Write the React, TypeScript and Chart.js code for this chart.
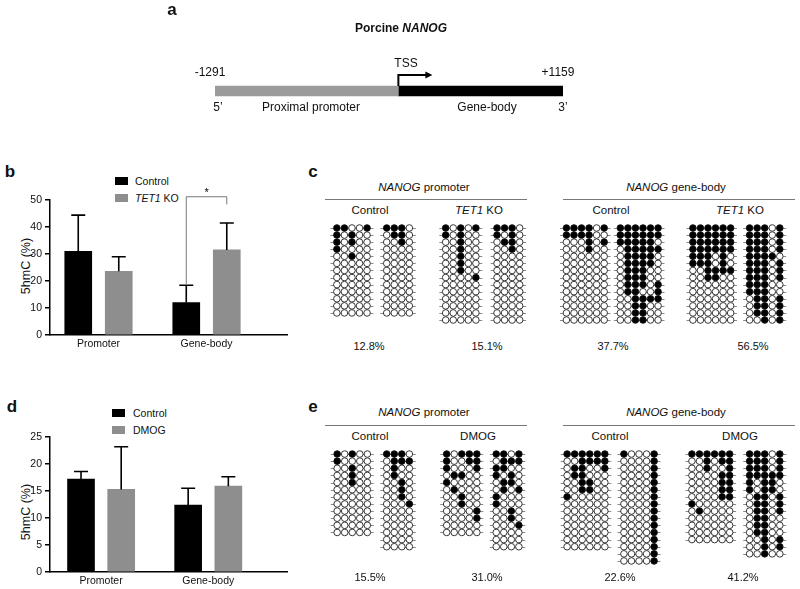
import React, { useEffect, useRef } from "react";
import { Chart, registerables } from "chart.js";
Chart.register(...registerables);

const FONT = "Arial, 'Liberation Sans', Helvetica, sans-serif";

// ---------- Panel a data ----------
const geneLabel = ["NANOG"];
const promoterStart = [-1291];
const geneBodyEnd = [1159];

// ---------- Panel b data ----------
const barGroups = ["Promoter", "Gene-body"];
const bControl = [31.0, 12.0];
const bControlSD = [13.4, 6.4];
const bTet1 = [23.6, 31.5];
const bTet1SD = [5.4, 10.0];

// ---------- Panel d data ----------
const dControl = [17.2, 12.4];
const dControlSD = [1.4, 3.1];
const dDmog = [15.3, 15.9];
const dDmogSD = [7.9, 1.75];

// ---------- Panel c methylation patterns (1 = methylated) ----------
const cPromControlA = ["11001", "10100", "10100", "10000", "00100", "00000", "00000", "00000", "00000", "00000", "00000", "00000", "00000"];
const cPromControlB = ["1110", "0110", "0010", "0000", "0000", "0000", "0000", "0000", "0000", "0000", "0000", "0000", "0000"];
const cPromTetA = ["10101", "10100", "00100", "00100", "00100", "00100", "00100", "00001", "00000", "00000", "00000", "00000", "00000", "00000"];
const cPromTetB = ["1110", "1010", "0110", "0010", "0000", "0000", "0000", "0000", "0000", "0000", "0000", "0000", "0000", "0000"];
const cBodyControlA = ["111101", "111100", "000101", "000100", "000000", "000000", "000000", "000000", "000000", "000000", "000000", "000000", "000000", "000000"];
const cBodyControlB = ["111111", "111111", "111110", "011111", "011110", "011110", "011100", "011100", "011101", "011001", "001111", "001100", "001100", "001100"];
const cBodyTetA = ["111111", "111111", "111111", "111111", "111010", "111010", "001111", "001100", "000000", "000000", "000000", "000000", "000000", "000000"];
const cBodyTetB = ["11101", "11101", "11101", "11101", "11110", "11101", "11101", "11101", "11100", "11100", "01101", "01101", "01101", "00101"];
const cPercents = ["12.8%", "15.1%", "37.7%", "56.5%"];

// ---------- Panel e methylation patterns ----------
const ePromControlA = ["10100", "10000", "00100", "00100", "00100", "00000", "00000", "00000", "00000", "00000", "00000", "00000"];
const ePromControlB = ["1110", "0111", "0100", "0100", "0010", "0010", "0010", "0001", "0000", "0000", "0000", "0000", "0000", "0000"];
const ePromDmogA = ["10111", "10011", "10001", "01100", "10000", "01000", "00100", "00100", "00001", "00001", "00000", "00000"];
const ePromDmogB = ["1101", "0111", "1100", "1010", "0110", "0101", "1000", "1000", "0010", "0010", "0001", "0000", "0000", "0000"];
const eBodyControlA = ["111111", "001111", "011001", "011000", "001100", "001100", "100000", "000000", "000000", "000000", "000000", "000000", "000000", "000000"];
const eBodyControlB = ["10001", "00001", "00001", "00001", "00001", "00001", "00001", "00001", "00001", "00001", "00001", "00001", "00001", "00001", "00001", "00001"];
const eBodyDmogA = ["111111", "001011", "001001", "000011", "000011", "000011", "000011", "100000", "010000", "000000", "000000", "000000", "000000"];
const eBodyDmogB = ["11101", "11101", "11101", "11111", "10110", "10110", "01101", "01101", "01101", "01100", "01100", "01100", "00101", "00101", "00100"];
const ePercents = ["15.5%", "31.0%", "22.6%", "41.2%"];

// ---------- layout constants ----------
const GRAY = "#8e8e8e";
const PITCH = 7.7;
const DOT_LEFT = 300;
const DOT_WIDTH = 500;
const C_CENTERS = [348, 395, 459, 507.5, 586, 641, 715, 769];
const E_CENTERS = [348.3, 395, 460, 506.7, 586.7, 640.8, 714, 769];

function GeneChart() {
  const ref = useRef<HTMLCanvasElement>(null);
  useEffect(() => {
    const tss = {
      id: "tss",
      afterDatasetsDraw(chart: any) {
        const ctx = chart.ctx;
        const x0 = chart.scales.x.getPixelForValue(0);
        const yc = chart.scales.y.getPixelForValue(0);
        const top = yc - 5;
        const yArr = top - 11;
        ctx.save();
        ctx.strokeStyle = "#000";
        ctx.fillStyle = "#000";
        ctx.lineWidth = 2;
        ctx.beginPath();
        ctx.moveTo(x0, top);
        ctx.lineTo(x0, yArr);
        ctx.lineTo(x0 + 28, yArr);
        ctx.stroke();
        ctx.beginPath();
        ctx.moveTo(x0 + 34, yArr);
        ctx.lineTo(x0 + 27, yArr - 3.5);
        ctx.lineTo(x0 + 27, yArr + 3.5);
        ctx.closePath();
        ctx.fill();
        ctx.restore();
      },
    };
    const chart = new Chart(ref.current as HTMLCanvasElement, {
      type: "bar",
      data: {
        labels: geneLabel,
        datasets: [
          { label: "Proximal promoter", data: promoterStart, backgroundColor: "#9b9b9b", barThickness: 10, borderWidth: 0 },
          { label: "Gene-body", data: geneBodyEnd, backgroundColor: "#000", barThickness: 10, borderWidth: 0 },
        ],
      },
      options: {
        indexAxis: "y",
        animation: false,
        responsive: false,
        layout: { padding: { left: 215, right: 237, top: 80, bottom: 18 } },
        plugins: { legend: { display: false }, tooltip: { enabled: false } },
        scales: {
          x: { display: false, stacked: true, min: promoterStart[0], max: geneBodyEnd[0] },
          y: { display: false, stacked: true },
        },
      } as any,
      plugins: [tss],
    });
    return () => chart.destroy();
  }, []);
  return <canvas ref={ref} width={800} height={120} style={{ position: "absolute", left: 0, top: 0, width: 800, height: 120 }} />;
}

type Series = { label: string; values: number[]; sd: number[]; color: string; offset: number };
type Bracket = { top: number; leftLow: number; rightLow: number; text: string };
type BarProps = {
  top: number;
  height: number;
  padTop: number;
  xAxisH: number;
  yMax: number;
  yStep: number;
  centers: number[];
  xMin: number;
  xMax: number;
  series: Series[];
  bracket?: Bracket;
};

function BarPanel(p: BarProps) {
  const ref = useRef<HTMLCanvasElement>(null);
  useEffect(() => {
    const errPlugin = {
      id: "errbars",
      afterDatasetsDraw(chart: any) {
        const ctx = chart.ctx;
        const ys = chart.scales.y;
        ctx.save();
        ctx.strokeStyle = "#000";
        ctx.lineWidth = 1.6;
        p.series.forEach((s, di) => {
          const meta = chart.getDatasetMeta(di);
          meta.data.forEach((el: any, i: number) => {
            const yTop = ys.getPixelForValue(s.values[i] + s.sd[i]);
            ctx.beginPath();
            ctx.moveTo(el.x, el.y);
            ctx.lineTo(el.x, yTop);
            ctx.moveTo(el.x - 7, yTop);
            ctx.lineTo(el.x + 7, yTop);
            ctx.stroke();
          });
        });
        if (p.bracket) {
          const b = p.bracket;
          const xl = chart.getDatasetMeta(0).data[1].x;
          const xr = chart.getDatasetMeta(1).data[1].x;
          const yt = ys.getPixelForValue(b.top);
          ctx.strokeStyle = "#777";
          ctx.lineWidth = 1;
          ctx.beginPath();
          ctx.moveTo(xl, ys.getPixelForValue(b.leftLow));
          ctx.lineTo(xl, yt);
          ctx.lineTo(xr, yt);
          ctx.lineTo(xr, ys.getPixelForValue(b.rightLow));
          ctx.stroke();
          ctx.fillStyle = "#000";
          ctx.font = `11px ${FONT}`;
          ctx.textAlign = "center";
          ctx.textBaseline = "bottom";
          ctx.fillText(b.text, (xl + xr) / 2, yt + 2);
        }
        ctx.restore();
      },
    };
    const chart = new Chart(ref.current as HTMLCanvasElement, {
      type: "bar",
      data: {
        datasets: p.series.map((s) => ({
          label: s.label,
          data: s.values.map((v, i) => ({ x: p.centers[i] + s.offset, y: v })),
          backgroundColor: s.color,
          grouped: false,
          barThickness: 27,
          borderWidth: 0,
        })),
      },
      options: {
        animation: false,
        responsive: false,
        layout: { padding: { top: p.padTop, right: 8, left: 0, bottom: 0 } },
        plugins: { legend: { display: false }, tooltip: { enabled: false } },
        scales: {
          x: {
            type: "linear",
            offset: false,
            min: p.xMin,
            max: p.xMax,
            afterBuildTicks: (ax: any) => {
              ax.ticks = p.centers.map((v) => ({ value: v }));
            },
            afterFit: (ax: any) => {
              ax.height = p.xAxisH;
            },
            grid: { display: false, drawTicks: false, offset: false },
            border: { display: true, color: "#000", width: 1.5 },
            ticks: {
              callback: (_v: any, i: number) => barGroups[i],
              font: { family: FONT, size: 10.5 },
              color: "#111",
              padding: 3,
              maxRotation: 0,
              autoSkip: false,
            },
          },
          y: {
            min: 0,
            max: p.yMax,
            afterFit: (ax: any) => {
              ax.width = 50;
            },
            ticks: { stepSize: p.yStep, font: { family: FONT, size: 10.5 }, color: "#111", padding: 3 },
            grid: { display: true, drawOnChartArea: false, drawTicks: true, tickLength: 5, color: "#000", lineWidth: 1.5 },
            border: { display: true, color: "#000", width: 1.5 },
          },
        },
      } as any,
      plugins: [errPlugin],
    });
    return () => chart.destroy();
  }, []);
  return (
    <canvas
      ref={ref}
      width={295}
      height={p.height}
      style={{ position: "absolute", left: 0, top: p.top, width: 295, height: p.height }}
    />
  );
}

type DotProps = { rowTop: number; maxRows: number; groups: string[][]; centers: number[] };

function DotChart({ rowTop, maxRows, groups, centers }: DotProps) {
  const ref = useRef<HTMLCanvasElement>(null);
  const height = PITCH * (maxRows + 1);
  useEffect(() => {
    const layout = groups.map((g, gi) => {
      const n = g[0].length;
      return { g, n, c0: (centers[gi] - DOT_LEFT) / PITCH - (n - 1) / 2 };
    });
    const filled: { x: number; y: number }[] = [];
    const open: { x: number; y: number }[] = [];
    layout.forEach(({ g, c0 }) => {
      g.forEach((row, r) => {
        row.split("").forEach((ch, c) => {
          (ch === "1" ? filled : open).push({ x: c0 + c, y: r });
        });
      });
    });
    const lines = {
      id: "rowlines",
      beforeDatasetsDraw(chart: any) {
        const ctx = chart.ctx;
        const xs = chart.scales.x;
        const ys = chart.scales.y;
        ctx.save();
        ctx.strokeStyle = "#8a8a8a";
        ctx.lineWidth = 1;
        layout.forEach(({ g, n, c0 }) => {
          g.forEach((_row, r) => {
            const y = Math.round(ys.getPixelForValue(r)) + 0.5;
            ctx.beginPath();
            ctx.moveTo(xs.getPixelForValue(c0 - 0.85), y);
            ctx.lineTo(xs.getPixelForValue(c0 + n - 1 + 0.85), y);
            ctx.stroke();
          });
        });
        ctx.restore();
      },
    };
    const chart = new Chart(ref.current as HTMLCanvasElement, {
      type: "scatter",
      data: {
        datasets: [
          { label: "methylated", data: filled, pointRadius: 3.3, pointBorderWidth: 0.9, pointBackgroundColor: "#000", pointBorderColor: "#111", clip: false },
          { label: "unmethylated", data: open, pointRadius: 3.3, pointBorderWidth: 0.9, pointBackgroundColor: "#fff", pointBorderColor: "#222", clip: false },
        ],
      },
      options: {
        animation: false,
        responsive: false,
        layout: { padding: 0 },
        plugins: { legend: { display: false }, tooltip: { enabled: false } },
        scales: {
          x: { display: false, offset: false, min: 0, max: DOT_WIDTH / PITCH },
          y: { display: false, offset: false, min: -1, max: maxRows, reverse: true },
        },
      } as any,
      plugins: [lines],
    });
    return () => chart.destroy();
  }, []);
  return (
    <canvas
      ref={ref}
      width={DOT_WIDTH}
      height={Math.round(height)}
      style={{ position: "absolute", left: DOT_LEFT, top: rowTop - PITCH, width: DOT_WIDTH, height: Math.round(height) }}
    />
  );
}

type TProps = { x: number; y: number; size?: number; bold?: boolean; left?: boolean; rotate?: boolean; children: React.ReactNode };
function T({ x, y, size = 12, bold, left, rotate, children }: TProps) {
  return (
    <div
      style={{
        position: "absolute",
        left: x,
        top: y,
        transform: `${left ? "translate(0,-50%)" : "translate(-50%,-50%)"}${rotate ? " rotate(-90deg)" : ""}`,
        fontSize: size,
        fontWeight: bold ? 700 : 400,
        lineHeight: 1,
        whiteSpace: "nowrap",
        color: "#111",
        fontFamily: FONT,
      }}
    >
      {children}
    </div>
  );
}

function HLine({ x1, x2, y }: { x1: number; x2: number; y: number }) {
  return <div style={{ position: "absolute", left: x1, top: y, width: x2 - x1, height: 0, borderTop: "1px solid #777" }} />;
}

function Swatch({ x, y, color }: { x: number; y: number; color: string }) {
  return <div style={{ position: "absolute", left: x, top: y, width: 13, height: 8, background: color }} />;
}

export default function App() {
  return (
    <div style={{ position: "fixed", left: 0, top: 0, width: 800, height: 589, background: "#fff", overflow: "hidden", fontFamily: FONT }}>
      {/* Panel a */}
      <GeneChart />
      <T x={172} y={9} size={17} bold>a</T>
      <T x={401} y={28} size={12} bold>
        Porcine <i>NANOG</i>
      </T>
      <T x={406} y={63}>TSS</T>
      <T x={210} y={72}>-1291</T>
      <T x={558} y={72}>+1159</T>
      <T x={218} y={107}>5’</T>
      <T x={311} y={107}>Proximal promoter</T>
      <T x={487} y={107}>Gene-body</T>
      <T x={563} y={107}>3’</T>

      {/* Panel b */}
      <T x={10} y={171} size={17} bold>b</T>
      <Swatch x={115} y={177} color="#000" />
      <T x={135} y={181} size={10.5} left>Control</T>
      <Swatch x={115} y={194} color={GRAY} />
      <T x={135} y={198} size={10.5} left>
        <i>TET1</i> KO
      </T>
      <T x={26} y={266} size={12.5} rotate>5hmC (%)</T>
      <BarPanel
        top={165}
        height={190}
        padTop={35}
        xAxisH={20}
        yMax={50}
        yStep={10}
        centers={[1, 3]}
        xMin={0.102}
        xMax={4.49}
        series={[
          { label: "Control", values: bControl, sd: bControlSD, color: "#000", offset: -0.375 },
          { label: "TET1 KO", values: bTet1, sd: bTet1SD, color: GRAY, offset: 0.375 },
        ]}
        bracket={{ top: 51.2, leftLow: 18.9, rightLow: 48.4, text: "*" }}
      />

      {/* Panel d */}
      <T x={12} y={406} size={17} bold>d</T>
      <Swatch x={112} y={409} color="#000" />
      <T x={133} y={413} size={10.5} left>Control</T>
      <Swatch x={112} y={426} color={GRAY} />
      <T x={133} y={430} size={10.5} left>DMOG</T>
      <T x={26} y={512} size={12.5} rotate>5hmC (%)</T>
      <BarPanel
        top={415}
        height={174}
        padTop={22}
        xAxisH={17}
        yMax={25}
        yStep={5}
        centers={[1, 3]}
        xMin={0.046}
        xMax={4.47}
        series={[
          { label: "Control", values: dControl, sd: dControlSD, color: "#000", offset: -0.375 },
          { label: "DMOG", values: dDmog, sd: dDmogSD, color: GRAY, offset: 0.375 },
        ]}
      />

      {/* Panel c */}
      <T x={313} y={171} size={17} bold>c</T>
      <T x={424} y={188} size={11.5}>
        <i>NANOG</i> promoter
      </T>
      <HLine x1={325} x2={527} y={199} />
      <T x={676} y={188} size={11.5}>
        <i>NANOG</i> gene-body
      </T>
      <HLine x1={563} x2={795} y={199} />
      <T x={370} y={211} size={11.5}>Control</T>
      <T x={479} y={211} size={11.5}>
        <i>TET1</i> KO
      </T>
      <T x={611} y={211} size={11.5}>Control</T>
      <T x={740} y={211} size={11.5}>
        <i>TET1</i> KO
      </T>
      <DotChart
        rowTop={223.3}
        maxRows={14}
        centers={C_CENTERS}
        groups={[cPromControlA, cPromControlB, cPromTetA, cPromTetB, cBodyControlA, cBodyControlB, cBodyTetA, cBodyTetB]}
      />
      <T x={369} y={346} size={11}>{cPercents[0]}</T>
      <T x={487} y={346} size={11}>{cPercents[1]}</T>
      <T x={613} y={346} size={11}>{cPercents[2]}</T>
      <T x={753} y={346} size={11}>{cPercents[3]}</T>

      {/* Panel e */}
      <T x={313} y={406} size={17} bold>e</T>
      <T x={424} y={413} size={11.5}>
        <i>NANOG</i> promoter
      </T>
      <HLine x1={325} x2={527} y={425} />
      <T x={676} y={413} size={11.5}>
        <i>NANOG</i> gene-body
      </T>
      <HLine x1={563} x2={795} y={425} />
      <T x={370} y={437} size={11.5}>Control</T>
      <T x={478} y={437} size={11.5}>DMOG</T>
      <T x={610} y={437} size={11.5}>Control</T>
      <T x={740} y={437} size={11.5}>DMOG</T>
      <DotChart
        rowTop={449.3}
        maxRows={16}
        centers={E_CENTERS}
        groups={[ePromControlA, ePromControlB, ePromDmogA, ePromDmogB, eBodyControlA, eBodyControlB, eBodyDmogA, eBodyDmogB]}
      />
      <T x={370} y={577} size={11}>{ePercents[0]}</T>
      <T x={487} y={577} size={11}>{ePercents[1]}</T>
      <T x={620} y={577} size={11}>{ePercents[2]}</T>
      <T x={743} y={577} size={11}>{ePercents[3]}</T>
    </div>
  );
}
